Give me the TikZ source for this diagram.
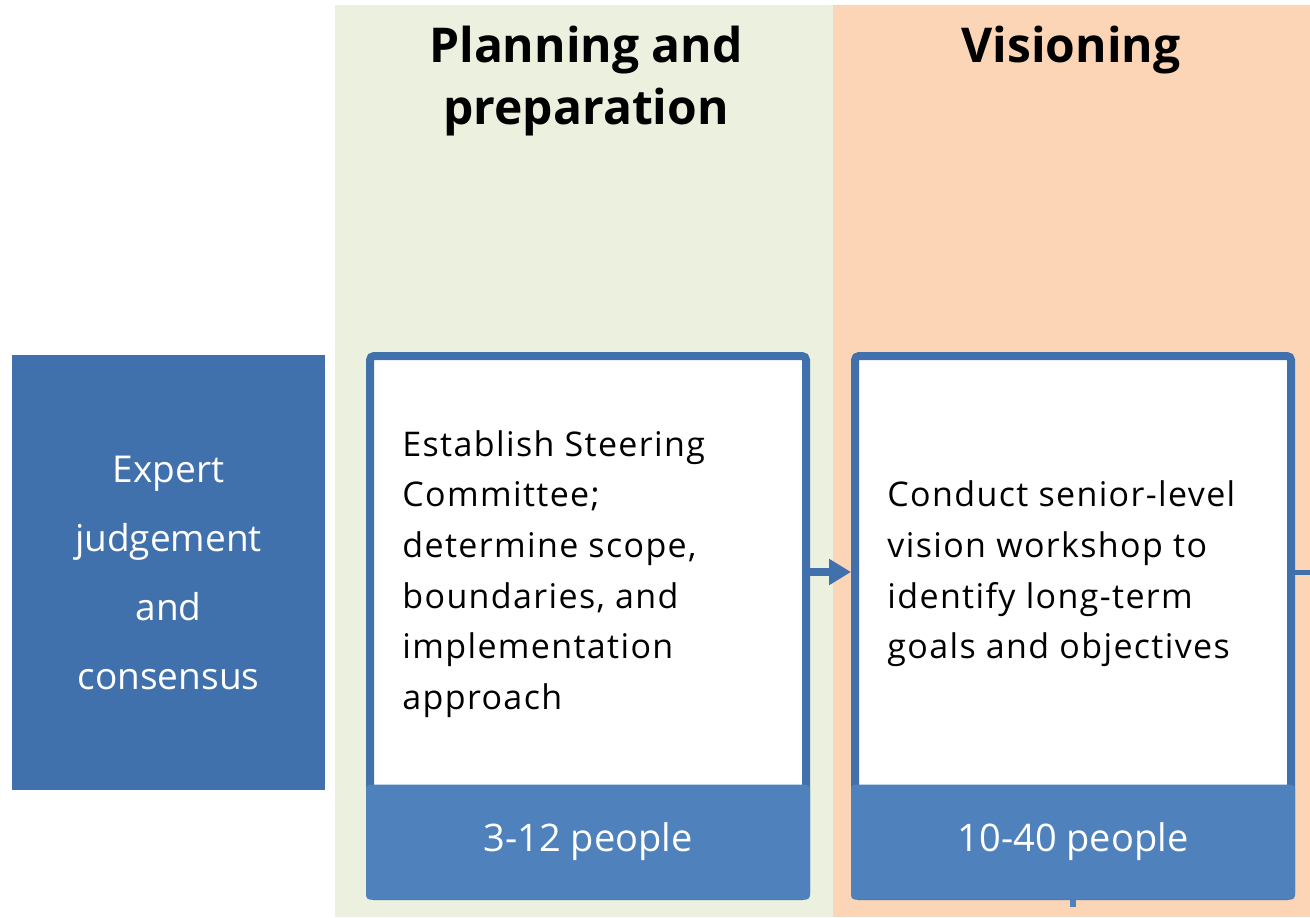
\documentclass[tikz,border=0pt]{standalone}
\usepackage{fontspec}
\setmainfont{Open Sans}
\newfontfamily\stepfont[LetterSpace=4]{Open Sans}
\usetikzlibrary{arrows.meta,calc,positioning}
\definecolor{stepblue}{HTML}{4171AD}
\definecolor{bandblue}{HTML}{4F81BD}
\definecolor{plangreen}{HTML}{EBF1DE}
\definecolor{visionorange}{HTML}{FBD5B5}
\tikzset{
stepbox/.style={
  rectangle,
  rounded corners=2bp,
  line width=4bp,
  draw=stepblue,
  fill=white,
  inner sep=0pt,
  minimum width=218bp,
  minimum height=270bp,
  }
}
\tikzset{
peoplebar/.style={
  rectangle,
  rounded corners=2bp,
  fill=bandblue,
  text=white,
  inner sep=0pt,
  minimum width=222bp,
  minimum height=57.5bp,
  font=\fontsize{19bp}{22bp}\selectfont,
  }
}
\tikzset{
steptext/.style={
  inner sep=0pt,
  anchor=west,
  align=left,
  font=\fontsize{17bp}{25.3bp}\stepfont,
  }
}
\tikzset{
phasetitle/.style={
  inner sep=0pt,
  anchor=north,
  align=center,
  font=\fontsize{24bp}{31bp}\selectfont\bfseries,
  }
}
\tikzset{
myline/.style={
  line width=4bp,
  draw=stepblue,
  -{Triangle[length=11bp,width=12.5bp]}
  }
}

\begin{document}
\begin{tikzpicture}[x=0.5bp,y=-0.5bp]
    \useasboundingbox (0,0) rectangle (1310,917);
    % phase panels
    \path [fill=plangreen] (335,5) rectangle (833,917);
    \path [fill=visionorange] (833,5) rectangle (1310,917);
    \node[phasetitle] (plan_title) at (586,26) {Planning and\\preparation};
    \node[phasetitle] (vision_title) at (1071,26) {Visioning};

    % method
    \node[rectangle, fill=stepblue, text=white, align=center, inner sep=0pt,
      minimum width=156.5bp, minimum height=217.5bp,
      font=\fontsize{18.5bp}{34.5bp}\selectfont] (expert) at (168.5,572.5)
      {Expert\\judgement\\and\\consensus};

    % planning step
    \node[stepbox] (plan) at (588,626) {};
    \node[peoplebar, anchor=south] (plan_ppl) at (plan.south) {3-12 people};
    \node[steptext] (plan_txt) at (402,574)
      {Establish Steering\\Committee;\\determine scope,\\boundaries, and\\implementation\\approach};

    % visioning step
    \node[stepbox] (vision) at (1073,626) {};
    \node[peoplebar, anchor=south] (vision_ppl) at (vision.south) {10-40 people};
    \node[steptext] (vision_txt) at (887,574)
      {Conduct senior-level\\vision workshop to\\identify long-term\\goals and objectives};

    % edges
    \coordinate (next_step) at (1310,572);
    \coordinate (below_step) at (1073,907);
    \draw[myline] (plan.east |- next_step) -- (vision.west |- next_step);
    \draw[line width=2.5bp, stepblue] (vision.east |- next_step) -- (next_step);
    \draw[line width=3bp, bandblue] (vision.south) -- (below_step);
\end{tikzpicture}
\end{document}
